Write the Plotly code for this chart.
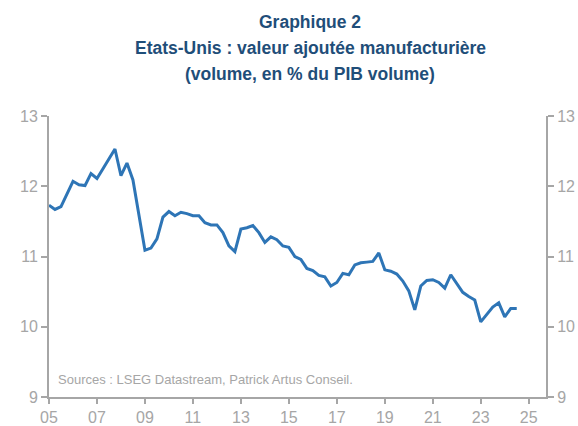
import plotly.graph_objects as go

# Quarterly data 2005Q1 .. 2024Q3
start_year = 2005
values = [
    11.73, 11.67, 11.71, 11.88, 12.07, 12.02, 12.01, 12.18, 12.11, 12.25,
    12.39, 12.53, 12.15, 12.33, 12.09, 11.60, 11.09, 11.12, 11.25, 11.56,
    11.64, 11.58, 11.63, 11.61, 11.58, 11.58, 11.48, 11.45, 11.45, 11.34,
    11.15, 11.07, 11.39, 11.41, 11.44, 11.34, 11.20, 11.28, 11.24, 11.15,
    11.13, 11.00, 10.96, 10.83, 10.80, 10.73, 10.71, 10.58, 10.63, 10.76,
    10.74, 10.88, 10.91, 10.92, 10.93, 11.05, 10.81, 10.79, 10.75, 10.65,
    10.51, 10.24, 10.58, 10.66, 10.67, 10.63, 10.55, 10.74, 10.61, 10.49,
    10.43, 10.38, 10.07, 10.18, 10.28, 10.34, 10.14, 10.26, 10.26,
]
dates = [start_year + 0.25 * i for i in range(len(values))]

x_tickvals = [2005, 2007, 2009, 2011, 2013, 2015, 2017, 2019, 2021, 2023, 2025]
x_ticktext = ["05", "07", "09", "11", "13", "15", "17", "19", "21", "23", "25"]
y_tickvals = [9, 10, 11, 12, 13]

title_lines = [
    "Graphique 2",
    "Etats-Unis : valeur ajoutée manufacturière",
    "(volume, en % du PIB volume)",
]
source_text = "Sources : LSEG Datastream, Patrick Artus Conseil."

FONT = "Liberation Sans, Arial, sans-serif"
GREY = "#A6A6A6"
AXIS_GREY = "#A6A6A6"
BLUE = "#2E75B6"
TITLE_BLUE = "#1F4E79"

W, H = 578, 426
M_L, M_R, M_T, M_B = 49, 32.4, 115.5, 28.5
plot_h = H - M_T - M_B
plot_w = W - M_L - M_R


def py(y_px):
    return (H - M_B - y_px) / plot_h


def px(x_px):
    return (x_px - M_L) / plot_w


fig = go.Figure()
fig.add_trace(go.Scatter(x=dates, y=values, mode="lines",
                         line=dict(color=BLUE, width=3), showlegend=False,
                         hoverinfo="skip"))
# invisible twin to anchor the right-hand axis
fig.add_trace(go.Scatter(x=dates, y=values, mode="lines", yaxis="y2",
                         line=dict(color="rgba(0,0,0,0)", width=0),
                         showlegend=False, hoverinfo="skip"))

axis_common = dict(showgrid=False, zeroline=False, showline=True,
                   automargin=False,
                   linecolor=AXIS_GREY, linewidth=2, ticks="outside",
                   tickcolor=AXIS_GREY, tickwidth=2, ticklen=6,
                   tickfont=dict(family=FONT, size=16, color=GREY))

title_y = [21, 47, 73]
annotations = [
    dict(text=t, x=px(310), y=py(yy), xref="paper", yref="paper",
         xanchor="center", yanchor="middle", showarrow=False,
         font=dict(family=FONT, size=17.5, color=TITLE_BLUE, weight="bold"))
    for t, yy in zip(title_lines, title_y)
]
annotations.append(dict(text=source_text, x=px(56), y=py(380), xref="paper",
                        yref="paper", xanchor="left", yanchor="middle",
                        showarrow=False,
                        font=dict(family=FONT, size=13, color=GREY)))

fig.update_layout(
    width=W, height=H,
    margin=dict(l=M_L, r=M_R, t=M_T, b=M_B),
    plot_bgcolor="white", paper_bgcolor="white",
    xaxis=dict(range=[2005, 2025.72], tickvals=x_tickvals, ticktext=x_ticktext,
               **{**axis_common, "ticklen": 5}),
    yaxis=dict(range=[9, 13], tickvals=y_tickvals, side="left", **axis_common),
    yaxis2=dict(range=[9, 13], tickvals=y_tickvals, side="right",
                overlaying="y", **axis_common),
    annotations=annotations,
)

fig.write_html(
    "out.html",
    config={"displayModeBar": False},
    post_script="document.body.style.margin='0';"
                "document.body.style.overflow='hidden';",
)
